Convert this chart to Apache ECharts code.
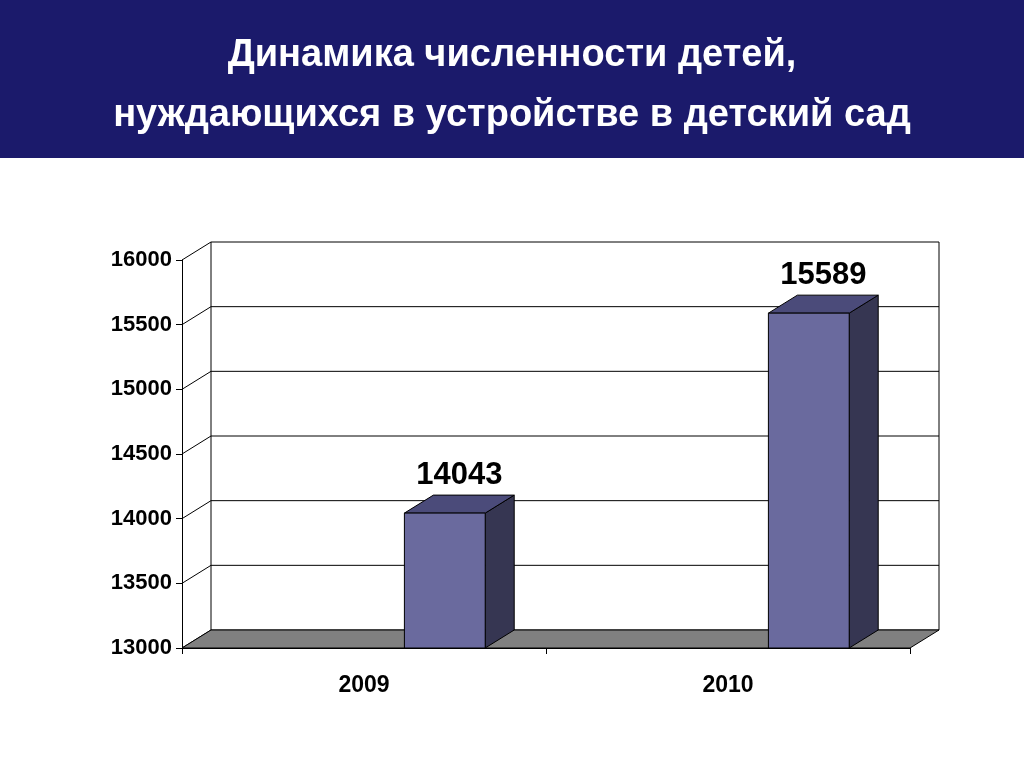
<!DOCTYPE html>
<html><head><meta charset="utf-8">
<script src="https://cdn.jsdelivr.net/npm/echarts@6/dist/echarts.min.js"></script>
<style>html,body{margin:0;padding:0;background:#fff}#c{width:1024px;height:768px}</style>
</head><body><div id="c"></div>
<script>
const categories = ['2009','2010'];
const values = [14043, 15589];
const yTicks = [13000,13500,14000,14500,15000,15500,16000];
const title = 'Динамика численности детей,\nнуждающихся в устройстве в детский сад';
const DX = 29, DY = -18;
const chart = echarts.init(document.getElementById('c'));
chart.setOption({
  animation:false,
  graphic:[{type:'rect',shape:{x:0,y:0,width:1024,height:158},style:{fill:'#1b1a6b'},z:-10},
    {type:'text',x:512,y:26,style:{text:title,fill:'#fff',font:'bold 38px "Liberation Sans", Arial',align:'center',lineHeight:60}}],
  grid:{left:182,right:114,top:260,bottom:120},
  xAxis:{type:'category',data:categories,axisLine:{lineStyle:{color:'#000'}},axisTick:{show:true,length:6,lineStyle:{color:'#000'}},
    axisLabel:{color:'#000',fontSize:23,fontWeight:'bold',margin:26,fontFamily:'Liberation Sans'}},
  yAxis:{type:'value',min:13000,max:16000,interval:500,splitLine:{show:false},
    axisLine:{show:true,lineStyle:{color:'#000'}},axisTick:{show:true,length:6,lineStyle:{color:'#000'}},
    axisLabel:{color:'#000',fontSize:22,fontWeight:'bold',margin:10,fontFamily:'Liberation Sans',formatter:v=>String(v)}},
  series:[
   {type:'custom',z:1,data:yTicks.map(v=>[0,v]),renderItem:function(p,api){
     const cs=p.coordSys; const y=api.coord([0,api.value(1)])[1];
     const x0=cs.x, x1=cs.x+cs.width, yb=cs.y+cs.height;
     const ch=[];
     ch.push({type:'line',shape:{x1:x0,y1:y,x2:x0+DX,y2:y+DY},style:{stroke:'#000',lineWidth:1}});
     ch.push({type:'line',shape:{x1:x0+DX,y1:y+DY,x2:x1+DX,y2:y+DY},style:{stroke:'#000',lineWidth:1}});
     if(p.dataIndex===0){
       ch.push({type:'polygon',shape:{points:[[x0,yb],[x1,yb],[x1+DX,yb+DY],[x0+DX,yb+DY]]},style:{fill:'#808080',stroke:'#000',lineWidth:1}});
       ch.push({type:'line',shape:{x1:x0+DX,y1:cs.y+DY,x2:x0+DX,y2:yb+DY},style:{stroke:'#000',lineWidth:1}});
       ch.push({type:'line',shape:{x1:x1+DX,y1:cs.y+DY,x2:x1+DX,y2:yb+DY},style:{stroke:'#000',lineWidth:1}});
     }
     return {type:'group',children:ch};
   }},
   {type:'custom',z:5,data:values.map((v,i)=>[i,v]),renderItem:function(p,api){
     const c=api.coord([api.value(0),api.value(1)]); const b=api.coord([api.value(0),13000]);
     const bw=api.size([1,0])[0]; const w=bw*0.222; const xl=c[0]+bw*0.222-w/2, xr=xl+w;
     const yt=c[1], yb=b[1];
     return {type:'group',children:[
      {type:'polygon',shape:{points:[[xr,yt],[xr+DX,yt+DY],[xr+DX,yb+DY],[xr,yb]]},style:{fill:'#363652',stroke:'#000',lineWidth:1}},
      {type:'polygon',shape:{points:[[xl,yt],[xl+DX,yt+DY],[xr+DX,yt+DY],[xr,yt]]},style:{fill:'#4b4b7a',stroke:'#000',lineWidth:1}},
      {type:'rect',shape:{x:xl,y:yt,width:w,height:yb-yt},style:{fill:'#6a6a9e',stroke:'#000',lineWidth:1}},
      {type:'text',style:{text:String(api.value(1)),x:(xl+xr)/2+DX/2,y:yt+DY-4,align:'center',verticalAlign:'bottom',font:'bold 31px "Liberation Sans", Arial',fill:'#000'}}
     ]};
   }}
  ]
});
</script></body></html>
